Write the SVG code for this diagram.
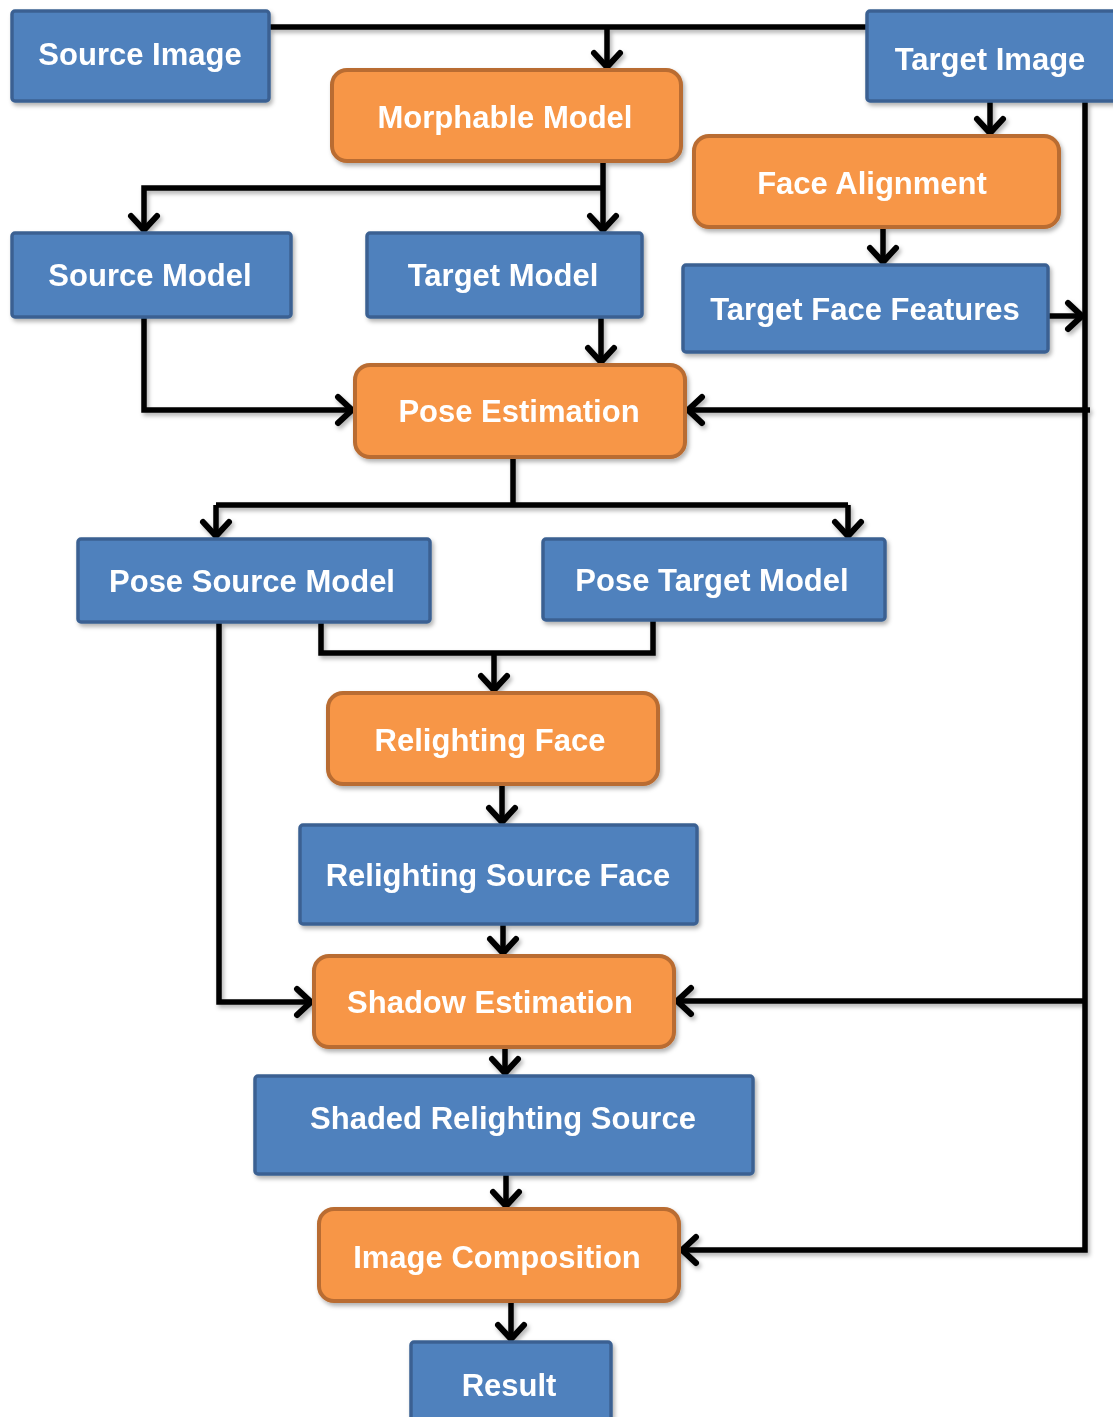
<svg xmlns="http://www.w3.org/2000/svg" width="1113" height="1417" viewBox="0 0 1113 1417">
<defs>
<style>
.blue{fill:#4F81BD;stroke:#3B6192;stroke-width:3.5}
.orange{fill:#F79646;stroke:#B96C30;stroke-width:4}
.lbl{font-family:"Liberation Sans",Arial,sans-serif;font-weight:bold;font-size:31px;fill:#FFFFFF;text-anchor:middle}
.con{fill:none;stroke:#000;stroke-width:5.5;stroke-linejoin:miter}
</style>
<filter id="sh" x="-10%" y="-10%" width="130%" height="130%">
<feDropShadow dx="2" dy="3" stdDeviation="2" flood-color="#000" flood-opacity="0.3"/>
</filter>
<marker id="ah" markerUnits="userSpaceOnUse" markerWidth="34" markerHeight="34" viewBox="-18 -17 22 34" refX="0" refY="0" orient="auto">
<path d="M-14,-13 L0,0 L-14,13" fill="none" stroke="#000" stroke-width="6" stroke-linecap="round" stroke-linejoin="miter"/>
</marker>
</defs>
<rect width="1113" height="1417" fill="#FFFFFF"/>

<g id="connectors" filter="url(#sh)">
<path class="con" d="M270,27 H866"/>
<path class="con" d="M607,27 V67" marker-end="url(#ah)"/>
<path class="con" d="M990,102 V133" marker-end="url(#ah)"/>
<path class="con" d="M603,162 V230" marker-end="url(#ah)"/>
<path class="con" d="M603,188 H144 V230" marker-end="url(#ah)"/>
<path class="con" d="M883,228 V262" marker-end="url(#ah)"/>
<path class="con" d="M1085,102 V1250 H682" marker-end="url(#ah)"/>
<path class="con" d="M1049,316 H1082" marker-end="url(#ah)"/>
<path class="con" d="M1090,410 H688" marker-end="url(#ah)"/>
<path class="con" d="M144,318 V410 H352" marker-end="url(#ah)"/>
<path class="con" d="M601,318 V362" marker-end="url(#ah)"/>
<path class="con" d="M513,458 V505"/>
<path class="con" d="M216,505 H848"/>
<path class="con" d="M216,505 V536" marker-end="url(#ah)"/>
<path class="con" d="M848,505 V536" marker-end="url(#ah)"/>
<path class="con" d="M321,623 V653 H653 V621"/>
<path class="con" d="M494,653 V690" marker-end="url(#ah)"/>
<path class="con" d="M219,623 V1002 H311" marker-end="url(#ah)"/>
<path class="con" d="M502,785 V822" marker-end="url(#ah)"/>
<path class="con" d="M503,925 V953" marker-end="url(#ah)"/>
<path class="con" d="M1085,1001 H677" marker-end="url(#ah)"/>
<path class="con" d="M505,1048 V1073" marker-end="url(#ah)"/>
<path class="con" d="M506,1175 V1206" marker-end="url(#ah)"/>
<path class="con" d="M511,1302 V1339" marker-end="url(#ah)"/>
</g>

<g id="source-image" filter="url(#sh)"><rect class="blue" x="12" y="11" width="257" height="90" rx="3"/><text class="lbl" x="140" y="65">Source Image</text></g>
<g id="target-image" filter="url(#sh)"><rect class="blue" x="867" y="11" width="260" height="90" rx="3"/><text class="lbl" x="990" y="70">Target Image</text></g>
<g id="morphable-model" filter="url(#sh)"><rect class="orange" x="332" y="70" width="349" height="91" rx="15"/><text class="lbl" x="505" y="128">Morphable Model</text></g>
<g id="face-alignment" filter="url(#sh)"><rect class="orange" x="694" y="136" width="365" height="91" rx="15"/><text class="lbl" x="872" y="194">Face Alignment</text></g>
<g id="source-model" filter="url(#sh)"><rect class="blue" x="12" y="233" width="279" height="84" rx="3"/><text class="lbl" x="150" y="286">Source Model</text></g>
<g id="target-model" filter="url(#sh)"><rect class="blue" x="367" y="233" width="275" height="84" rx="3"/><text class="lbl" x="503" y="286">Target Model</text></g>
<g id="target-face-features" filter="url(#sh)"><rect class="blue" x="683" y="265" width="365" height="87" rx="3"/><text class="lbl" x="865" y="320">Target Face Features</text></g>
<g id="pose-estimation" filter="url(#sh)"><rect class="orange" x="355" y="365" width="330" height="92" rx="15"/><text class="lbl" x="519" y="422">Pose Estimation</text></g>
<g id="pose-source-model" filter="url(#sh)"><rect class="blue" x="78" y="539" width="352" height="83" rx="3"/><text class="lbl" x="252" y="592">Pose Source Model</text></g>
<g id="pose-target-model" filter="url(#sh)"><rect class="blue" x="543" y="539" width="342" height="81" rx="3"/><text class="lbl" x="712" y="591">Pose Target Model</text></g>
<g id="relighting-face" filter="url(#sh)"><rect class="orange" x="328" y="693" width="330" height="91" rx="15"/><text class="lbl" x="490" y="751">Relighting Face</text></g>
<g id="relighting-source-face" filter="url(#sh)"><rect class="blue" x="300" y="825" width="397" height="99" rx="3"/><text class="lbl" x="498" y="886">Relighting Source Face</text></g>
<g id="shadow-estimation" filter="url(#sh)"><rect class="orange" x="314" y="956" width="360" height="91" rx="15"/><text class="lbl" x="490" y="1013">Shadow Estimation</text></g>
<g id="shaded-relighting-source" filter="url(#sh)"><rect class="blue" x="255" y="1076" width="498" height="98" rx="3"/><text class="lbl" x="503" y="1129">Shaded Relighting Source</text></g>
<g id="image-composition" filter="url(#sh)"><rect class="orange" x="319" y="1209" width="360" height="92" rx="15"/><text class="lbl" x="497" y="1268">Image Composition</text></g>
<g id="result" filter="url(#sh)"><rect class="blue" x="411" y="1342" width="200" height="90" rx="3"/><text class="lbl" x="509" y="1396">Result</text></g>
</svg>
